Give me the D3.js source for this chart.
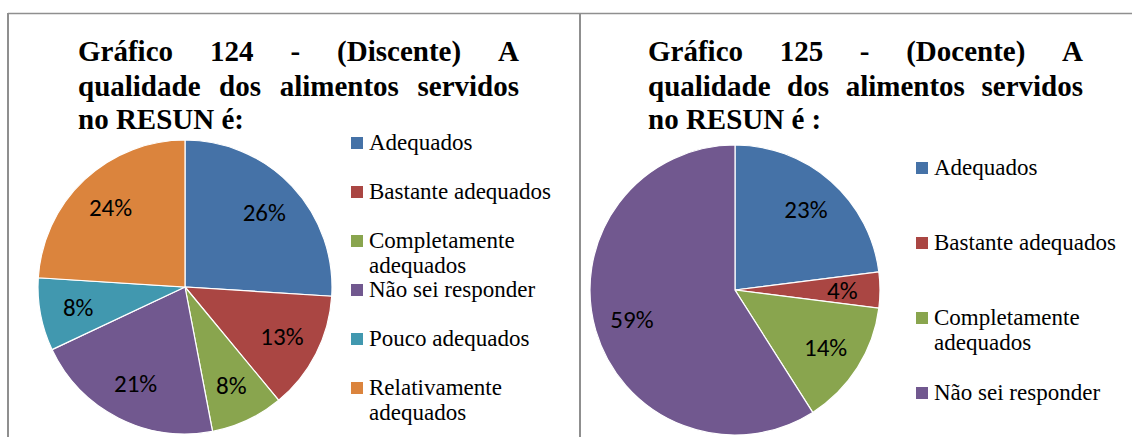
<!DOCTYPE html>
<html>
<head>
<meta charset="utf-8">
<script src="https://cdn.jsdelivr.net/npm/d3@7"></script>
<style>
  body { margin: 0; background: #fff; }
  svg { display: block; }
</style>
</head>
<body>
<svg id="chart" width="1132" height="437"></svg>
<script>
// Survey answers: quality of the food served at RESUN
const categoriesDiscente = ["Adequados", "Bastante adequados", "Completamente adequados",
  "Não sei responder", "Pouco adequados", "Relativamente adequados"];
const valuesDiscente = [26, 13, 8, 21, 8, 24];

const categoriesDocente = ["Adequados", "Bastante adequados", "Completamente adequados",
  "Não sei responder"];
const valuesDocente = [23, 4, 14, 59];

const titleDiscente = ["Gráfico 124 - (Discente) A", "qualidade dos alimentos servidos", "no RESUN é:"];
const titleDocente = ["Gráfico 125 - (Docente) A", "qualidade dos alimentos servidos", "no RESUN é :"];

const colorScale = d3.scaleOrdinal()
  .domain(["Adequados", "Bastante adequados", "Completamente adequados",
    "Não sei responder", "Pouco adequados", "Relativamente adequados"])
  .range(["#4572A7", "#AA4643", "#89A54E", "#71588F", "#4198AF", "#DB843D"]);

const SERIF = '"Liberation Serif"';
const LABEL_FONT = '"Carlito"';

const svg = d3.select("#chart");

// panel frames
const frame = svg.append("g").attr("stroke", "#8f8f8f").attr("fill", "none");
frame.append("line").attr("x1", 8).attr("x2", 1132).attr("y1", 13.5).attr("y2", 13.5).attr("stroke-width", 1.5);
frame.append("line").attr("x1", 8).attr("x2", 8).attr("y1", 13).attr("y2", 437).attr("stroke-width", 2);
frame.append("line").attr("x1", 580).attr("x2", 580).attr("y1", 13).attr("y2", 437).attr("stroke-width", 2);

const panels = [
  { categories: categoriesDiscente, values: valuesDiscente, title: titleDiscente,
    cx: 185, cy: 287, r: 147, tx0: 78, tx1: 519, lx: 351, ly: 150, lstep: 49 },
  { categories: categoriesDocente, values: valuesDocente, title: titleDocente,
    cx: 735, cy: 290, r: 145, tx0: 648, tx1: 1083, lx: 916, ly: 175, lstep: 75 }
];

const titleBaselines = [61, 96, 129];
const legendMaxWidth = 200;
const legendLineHeight = 25;

function serifText(sel, size, bold) {
  return sel.style("font-family", SERIF)
    .style("font-size", size + "px")
    .style("font-weight", bold ? "bold" : "normal")
    .attr("fill", "#000");
}

panels.forEach(p => {
  const g = svg.append("g");

  // justified bold title
  const tg = g.append("g");
  p.title.forEach((line, i) => {
    const words = line.split(" ");
    const y = titleBaselines[i];
    const nodes = words.map(w => serifText(tg.append("text"), 29, true).attr("y", y).text(w));
    const widths = nodes.map(n => n.node().getComputedTextLength());
    const total = d3.sum(widths);
    const last = i === p.title.length - 1;
    const gap = (last || words.length < 2) ? 29 * 0.25 : (p.tx1 - p.tx0 - total) / (words.length - 1);
    let x = p.tx0;
    nodes.forEach((n, k) => { n.attr("x", x); x += widths[k] + gap; });
  });

  // pie
  const data = p.categories.map((c, i) => ({ category: c, value: p.values[i] }));
  const pie = d3.pie().sort(null).value(d => d.value).startAngle(0).endAngle(2 * Math.PI);
  const arcs = pie(data);
  const arc = d3.arc().innerRadius(0).outerRadius(p.r);
  const labelArc = d3.arc().innerRadius(p.r * 0.74).outerRadius(p.r * 0.74);

  const pg = g.append("g").attr("transform", `translate(${p.cx},${p.cy})`);
  pg.selectAll("path").data(arcs).join("path")
    .attr("d", arc)
    .attr("fill", d => colorScale(d.data.category))
    .attr("stroke", "#fff")
    .attr("stroke-width", 1.2);

  pg.selectAll("text").data(arcs).join("text")
    .attr("transform", d => `translate(${labelArc.centroid(d)})`)
    .attr("text-anchor", "middle")
    .attr("dominant-baseline", "central")
    .style("font-family", LABEL_FONT)
    .style("font-size", "25px")
    .attr("fill", "#000")
    .text(d => `${d.data.value}%`);

  // legend
  const lg = g.append("g");
  p.categories.forEach((c, i) => {
    const base = p.ly + i * p.lstep;
    lg.append("rect")
      .attr("x", p.lx).attr("y", base - 13)
      .attr("width", 12).attr("height", 12)
      .attr("fill", colorScale(c));
    const t = serifText(lg.append("text"), 23, false).attr("x", p.lx + 18).attr("y", base).text(c);
    if (t.node().getComputedTextLength() > legendMaxWidth) {
      const words = c.split(" ");
      t.text(null);
      let lineWords = [];
      let lineNo = 0;
      let ts = t.append("tspan").attr("x", p.lx + 18).attr("y", base);
      words.forEach(w => {
        lineWords.push(w);
        ts.text(lineWords.join(" "));
        if (ts.node().getComputedTextLength() > legendMaxWidth && lineWords.length > 1) {
          lineWords.pop();
          ts.text(lineWords.join(" "));
          lineWords = [w];
          lineNo += 1;
          ts = t.append("tspan").attr("x", p.lx + 18).attr("y", base + lineNo * legendLineHeight).text(w);
        }
      });
    }
  });
});
</script>
</body>
</html>
